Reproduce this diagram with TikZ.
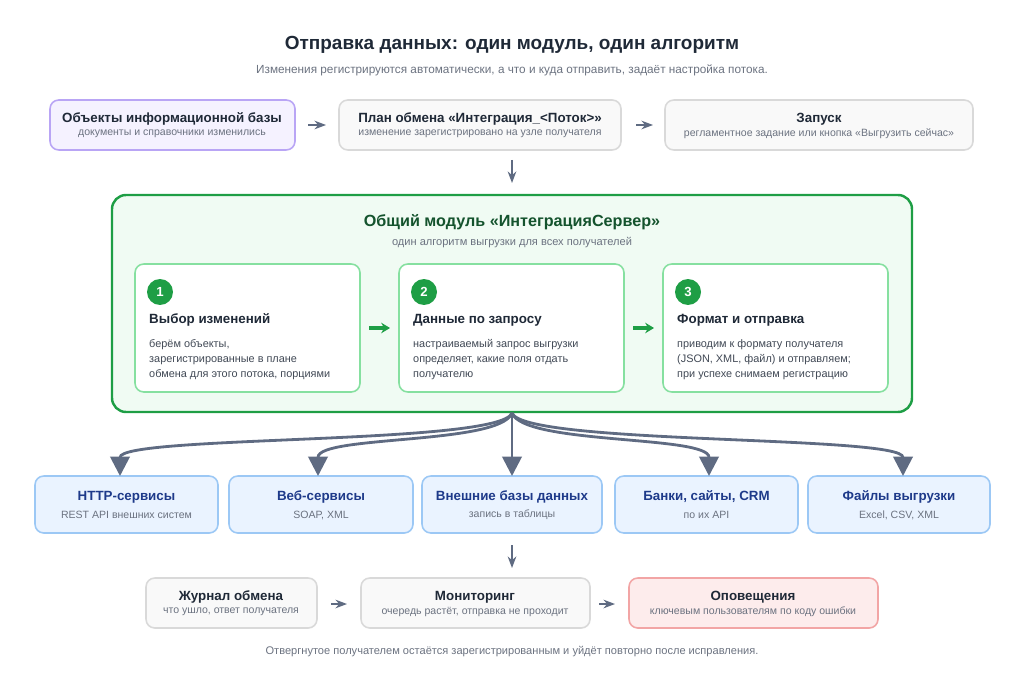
\documentclass[tikz,border=0pt]{standalone}
\usepackage{fontspec}
\setmainfont{Liberation Sans}
\usetikzlibrary{arrows.meta}
\definecolor{ink}{HTML}{1F2937}
\definecolor{muted}{HTML}{6B7280}
\definecolor{edge}{HTML}{5F6B82}
\definecolor{grn}{HTML}{1E9E45}
\definecolor{dgrn}{HTML}{14532D}
\definecolor{navy}{HTML}{1E3A8A}
\tikzset{
  box/.style={draw, rounded corners=5pt, line width=0.9pt},
  plain/.style={box, draw=gray!30, fill=gray!5},
  purp/.style={box, draw={rgb,255:red,185;green,165;blue,245}, fill={rgb,255:red,245;green,242;blue,255}},
  recv/.style={box, draw={rgb,255:red,156;green,200;blue,245}, fill={rgb,255:red,234;green,243;blue,255}},
  alert/.style={box, draw={rgb,255:red,242;green,165;blue,165}, fill={rgb,255:red,253;green,236;blue,236}},
  card/.style={box, draw={rgb,255:red,134;green,224;blue,160}, fill=white},
  ttl/.style={font=\bfseries\fontsize{7.6}{9}\selectfont, text=ink},
  sub/.style={font=\fontsize{6}{7}\selectfont, text=muted},
  txt/.style={font=\fontsize{6.2}{8.6}\selectfont, text=ink!85, align=left, anchor=north west},
  flow/.style={->, >=Stealth, line width=0.8pt, edge},
  gflow/.style={-{Stealth[length=5pt,width=6pt]}, line width=1.8pt, grn},
  fan/.style={-{Triangle[length=11pt,width=11pt]}, line width=1.6pt, edge}
}
\begin{document}
\begin{tikzpicture}[x=0.02cm, y=-0.02cm]
\useasboundingbox (0,0) rectangle (1024,699);
\node[font=\bfseries\fontsize{10.8}{12}\selectfont, text=ink] (title) at (512,45) {Отправка данных: один модуль, один алгоритм};
\node[font=\fontsize{6.7}{8}\selectfont, text=muted] (lead) at (512,70) {Изменения регистрируются автоматически, а что и куда отправить, задаёт настройка потока.};
% top row
\draw[purp] (50,100) rectangle (295,150);
\draw[plain] (339,100) rectangle (621,150);
\draw[plain] (665,100) rectangle (973,150);
\node[ttl] (obj) at (172,119) {Объекты информационной базы};
\node[sub] at (172,134) {документы и справочники изменились};
\node[ttl] (plan) at (480,119) {План обмена «Интеграция\_<Поток>»};
\node[sub] at (480,134) {изменение зарегистрировано на узле получателя};
\node[ttl] (run) at (819,119) {Запуск};
\node[sub] at (819,134) {регламентное задание или кнопка «Выгрузить сейчас»};
\coordinate (a1) at (308,125); \coordinate (a2) at (326,125);
\coordinate (b1) at (636,125); \coordinate (b2) at (653,125);
\draw[flow] (a1) -- (a2);
\draw[flow] (b1) -- (b2);
\coordinate (d1) at (512,160); \coordinate (d2) at (512,183);
\draw[flow] (d1) -- (d2);
% module
\draw[box, draw=grn, line width=1.4pt, fill={rgb,255:red,240;green,251;blue,243}, rounded corners=8pt] (112,195) rectangle (912,412);
\node[font=\bfseries\fontsize{9.2}{10}\selectfont, text=dgrn] (mod) at (512,222) {Общий модуль «ИнтеграцияСервер»};
\node[sub, font=\fontsize{6.3}{7}\selectfont] at (512,243) {один алгоритм выгрузки для всех получателей};
\foreach \x/\n/\h/\t in {135/1/Выбор изменений/{берём объекты,\\зарегистрированные в плане\\обмена для этого потока, порциями},
  399/2/Данные по запросу/{настраиваемый запрос выгрузки\\определяет, какие поля отдать\\получателю},
  663/3/Формат и отправка/{приводим к формату получателя\\(JSON, XML, файл) и отправляем;\\при успехе снимаем регистрацию}}{
  \draw[card] (\x,264) rectangle (\x+225,392);
  \node[circle, fill=grn, text=white, inner sep=0pt, minimum size=0.52cm, font=\bfseries\fontsize{7.5}{8}\selectfont] (n\n) at (\x+25,292) {\n};
  \node[ttl, anchor=west] (h\n) at (\x+8,320) {\h};
  \node[txt] at (\x+8,333) {\t};
}
\coordinate (g1) at (369,328); \coordinate (g2) at (390,328);
\coordinate (g3) at (633,328); \coordinate (g4) at (654,328);
\draw[gflow] (g1) -- (g2);
\draw[gflow] (g3) -- (g4);
% receivers
\coordinate (src) at (512,413);
\foreach \l/\r/\h/\s [count=\i] in {35/218/HTTP-сервисы/REST API внешних систем,
  229/413/Веб-сервисы/{SOAP, XML},
  422/602/Внешние базы данных/запись в таблицы,
  615/798/{Банки, сайты, CRM}/по их API,
  808/990/Файлы выгрузки/{Excel, CSV, XML}}{
  \draw[recv] (\l,476) rectangle (\r,533);
  \node[ttl, text=navy] (r\i) at ({(\l+\r)/2},497) {\h};
  \node[sub] at ({(\l+\r)/2},515) {\s};
}
\coordinate (t1) at (120,476); \coordinate (t2) at (318,476);
\coordinate (t3) at (512,476); \coordinate (t4) at (709,476); \coordinate (t5) at (903,476);
\draw[fan] (src) .. controls (500,445) and (120,435) .. (t1);
\draw[fan] (src) .. controls (500,445) and (318,435) .. (t2);
\draw[fan] (src) -- (t3);
\draw[fan] (src) .. controls (524,445) and (709,435) .. (t4);
\draw[fan] (src) .. controls (524,445) and (903,435) .. (t5);
\coordinate (e1) at (512,545); \coordinate (e2) at (512,568);
\draw[flow] (e1) -- (e2);
% monitoring
\draw[plain] (146,578) rectangle (317,628);
\draw[plain] (361,578) rectangle (590,628);
\draw[alert] (629,578) rectangle (878,628);
\node[ttl] (log) at (231,597) {Журнал обмена};
\node[sub] at (231,612) {что ушло, ответ получателя};
\node[ttl] (mon) at (475,597) {Мониторинг};
\node[sub] at (475,612) {очередь растёт, отправка не проходит};
\node[ttl] (ntf) at (753,597) {Оповещения};
\node[sub] at (753,612) {ключевым пользователям по коду ошибки};
\coordinate (m1) at (331,604); \coordinate (m2) at (347,604);
\coordinate (m3) at (599,604); \coordinate (m4) at (615,604);
\draw[flow] (m1) -- (m2);
\draw[flow] (m3) -- (m4);
\node[sub, font=\fontsize{6.3}{7}\selectfont] (foot) at (512,652) {Отвергнутое получателем остаётся зарегистрированным и уйдёт повторно после исправления.};
\end{tikzpicture}
\end{document}
